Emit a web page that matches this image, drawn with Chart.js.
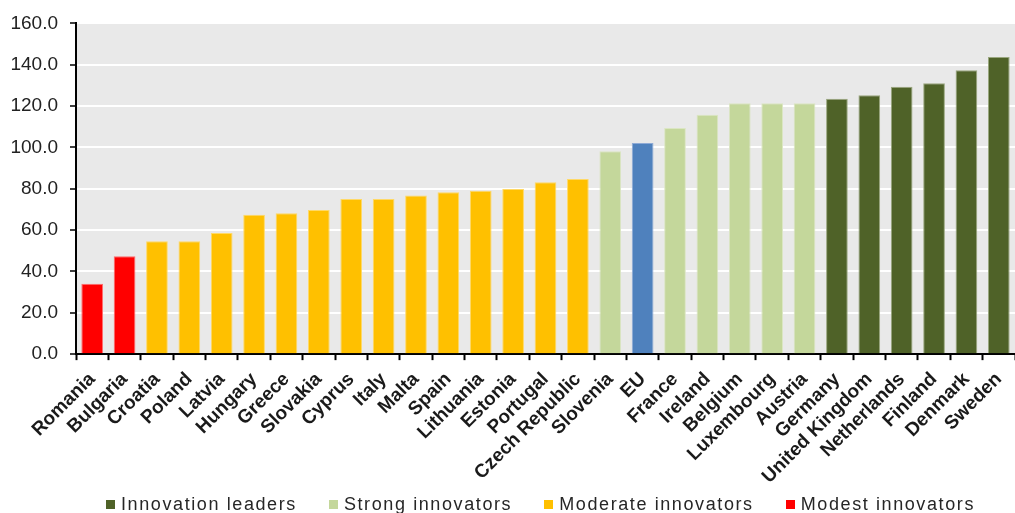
<!DOCTYPE html>
<html lang="en">
<head>
    <meta charset="UTF-8">
    <title>Innovation Scoreboard</title>
    <style>
        html, body {
            margin: 0;
            padding: 0;
            background: #ffffff;
            overflow: hidden;
            width: 1015px;
            height: 513px;
        }
        .chart-box {
            position: absolute;
            left: 0;
            top: 0;
            width: 1015px;
            height: 496px;
        }
        .legend {
            position: absolute;
            left: 66px;
            top: 495px;
            width: 949px;
            display: flex;
            justify-content: center;
            gap: 32px;
            font-family: 'Liberation Sans', Arial, sans-serif;
            font-size: 18px;
            line-height: 18px;
            letter-spacing: 1.6px;
            color: #262626;
            white-space: nowrap;
        }
        .legend-item {
            display: flex;
            align-items: center;
        }
        .legend-box {
            display: inline-block;
            width: 9px;
            height: 9px;
            margin-right: 6px;
            margin-top: 1px;
        }
    </style>
</head>
<body>
    <div class="chart-box">
        <canvas id="scoreChart"></canvas>
    </div>
    <div class="legend" id="legend"></div>

    <script src="https://cdn.jsdelivr.net/npm/chart.js"></script>
    <script>
        const countries = ['Romania', 'Bulgaria', 'Croatia', 'Poland', 'Latvia', 'Hungary', 'Greece', 'Slovakia',
            'Cyprus', 'Italy', 'Malta', 'Spain', 'Lithuania', 'Estonia', 'Portugal', 'Czech Republic',
            'Slovenia', 'EU', 'France', 'Ireland', 'Belgium', 'Luxembourg', 'Austria', 'Germany',
            'United Kingdom', 'Netherlands', 'Finland', 'Denmark', 'Sweden'];
        const scores = [34.0, 47.4, 54.6, 54.6, 58.6, 67.4, 68.2, 69.7,
            75.1, 75.1, 76.7, 78.3, 79.1, 79.9, 83.1, 84.7,
            98.2, 102.2, 109.4, 115.8, 121.4, 121.4, 121.4, 123.6,
            125.3, 129.3, 131.0, 137.3, 143.7];
        // group of each country: 0 leaders, 1 strong, 2 moderate, 3 modest, 4 EU
        const groups = [3, 3, 2, 2, 2, 2, 2, 2,
            2, 2, 2, 2, 2, 2, 2, 2,
            1, 4, 1, 1, 1, 1, 1, 0,
            0, 0, 0, 0, 0];
        const groupNames = ['Innovation leaders', 'Strong innovators', 'Moderate innovators', 'Modest innovators'];
        const groupColors = ['#4f6228', '#c4d79b', '#ffc000', '#ff0000', '#4f81bd'];
        const groupEdges = ['#9aa77f', '#dbe6c3', '#ffd966', '#ff6b6b', '#8eaad6'];
        const yTicks = [0, 20, 40, 60, 80, 100, 120, 140, 160];

        // grey plot background
        const plotBackground = {
            id: 'plotBackground',
            beforeDraw(chart) {
                const { ctx, chartArea } = chart;
                ctx.save();
                ctx.fillStyle = '#e9e9e9';
                ctx.fillRect(chartArea.left, chartArea.top, chartArea.right - chartArea.left, chartArea.bottom - chartArea.top);
                ctx.restore();
            }
        };

        // html legend, one entry per group (EU has none)
        const legendEl = document.getElementById('legend');
        groupNames.forEach((name, i) => {
            const item = document.createElement('div');
            item.className = 'legend-item';
            item.innerHTML = `<span class="legend-box" style="background:${groupColors[i]}"></span><span>${name}</span>`;
            legendEl.appendChild(item);
        });

        const ctx = document.getElementById('scoreChart').getContext('2d');
        new Chart(ctx, {
            type: 'bar',
            data: {
                labels: countries,
                datasets: [{
                    data: scores,
                    backgroundColor: groups.map(g => groupColors[g]),
                    borderColor: groups.map(g => groupEdges[g]),
                    borderWidth: 1,
                    barPercentage: 0.67,
                    categoryPercentage: 1.0
                }]
            },
            options: {
                responsive: true,
                maintainAspectRatio: false,
                animation: false,
                layout: {
                    padding: { top: 17, left: 0, right: 0, bottom: 0 }
                },
                plugins: {
                    tooltip: { enabled: false },
                    legend: { display: false }
                },
                scales: {
                    x: {
                        offset: true,
                        // plot runs to the right edge like the original
                        afterFit: axis => { axis.paddingRight = 0; },
                        border: { color: '#000', width: 2 },
                        grid: {
                            offset: true,
                            drawOnChartArea: false,
                            drawTicks: true,
                            tickLength: 6,
                            tickColor: '#000',
                            tickWidth: 2
                        },
                        ticks: {
                            autoSkip: false,
                            maxRotation: 45,
                            minRotation: 45,
                            padding: 8,
                            color: '#1a1a1a',
                            font: { family: 'Liberation Sans, Arial, sans-serif', size: 19, weight: 'bold' }
                        }
                    },
                    y: {
                        min: 0,
                        max: 160,
                        afterBuildTicks: axis => { axis.ticks = yTicks.map(v => ({ value: v })); },
                        afterFit: axis => { axis.width = 76; },
                        border: { color: '#000', width: 2 },
                        grid: {
                            color: '#ffffff',
                            lineWidth: 2,
                            tickColor: '#000',
                            tickLength: 6,
                            tickWidth: 1.5
                        },
                        ticks: {
                            padding: 12,
                            color: '#222',
                            font: { family: 'Liberation Sans, Arial, sans-serif', size: 19 },
                            callback: v => v.toFixed(1)
                        }
                    }
                }
            },
            plugins: [plotBackground]
        });
    </script>
</body>
</html>
